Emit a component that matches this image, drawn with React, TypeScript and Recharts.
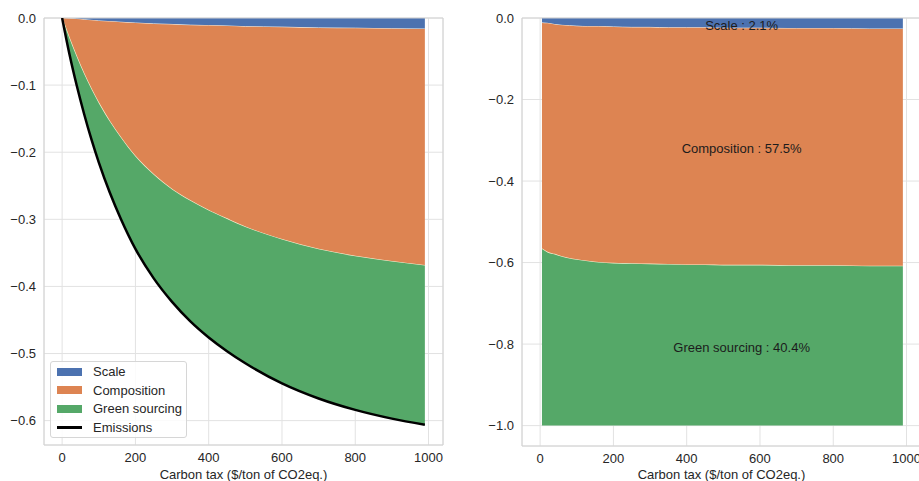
import React from 'react';
import { ComposedChart, Area, Line, XAxis, YAxis, CartesianGrid, ReferenceArea, ReferenceDot } from 'recharts';

// ---------- Left panel: absolute decomposition ----------
const taxLeft = [0, 20, 40, 60, 80, 100, 130, 160, 200, 250, 300, 350, 400, 450, 500, 600, 700, 800, 900, 990];
const scaleLeft = [0, -0.0007, -0.0016, -0.0026, -0.0035, -0.0044, -0.0054, -0.0063, -0.0075, -0.0088, -0.0096, -0.0107, -0.0113, -0.0119, -0.0129, -0.0136, -0.0148, -0.0152, -0.0161, -0.0164];
const compositionLeft = [0, -0.0299, -0.0566, -0.0809, -0.1027, -0.1225, -0.1488, -0.1719, -0.1989, -0.2248, -0.2459, -0.2617, -0.2755, -0.2875, -0.2985, -0.3166, -0.3299, -0.3399, -0.3469, -0.3526];
const greenLeft = [0, -0.0234, -0.0428, -0.0595, -0.0748, -0.0881, -0.1058, -0.1208, -0.1376, -0.1544, -0.1675, -0.1796, -0.1892, -0.1971, -0.2031, -0.2143, -0.2223, -0.2289, -0.234, -0.237];
const emissionsLeft = [0, -0.054, -0.101, -0.143, -0.181, -0.215, -0.26, -0.299, -0.344, -0.388, -0.423, -0.452, -0.476, -0.4965, -0.5145, -0.5445, -0.567, -0.584, -0.597, -0.606];

// ---------- Right panel: shares ----------
const taxRight = [5, 20, 40, 60, 80, 100, 130, 160, 200, 250, 300, 350, 400, 450, 500, 600, 700, 800, 900, 990];
const scaleShare = [-0.012, -0.013, -0.016, -0.018, -0.019, -0.02, -0.021, -0.021, -0.022, -0.023, -0.023, -0.024, -0.024, -0.024, -0.025, -0.025, -0.026, -0.026, -0.027, -0.027];
const compositionShare = [-0.555, -0.562, -0.564, -0.568, -0.571, -0.573, -0.576, -0.579, -0.58, -0.58, -0.581, -0.581, -0.582, -0.582, -0.582, -0.582, -0.582, -0.582, -0.582, -0.582];
const greenShare = [-0.433, -0.425, -0.42, -0.414, -0.41, -0.407, -0.403, -0.4, -0.398, -0.397, -0.396, -0.395, -0.394, -0.394, -0.393, -0.393, -0.392, -0.392, -0.391, -0.391];

const shareLabels = [
  { text: 'Scale : 2.1%', x: 550, y: -0.017 },
  { text: 'Composition : 57.5%', x: 550, y: -0.319 },
  { text: 'Green sourcing : 40.4%', x: 550, y: -0.807 },
];

const xTicks = [0, 200, 400, 600, 800, 1000];
const yTicksLeft = [0, -0.1, -0.2, -0.3, -0.4, -0.5, -0.6];
const yTicksRight = [0, -0.2, -0.4, -0.6, -0.8, -1.0];
const legendItems = [
  { name: 'Scale', color: '#4c72b0', kind: 'patch' },
  { name: 'Composition', color: '#dd8452', kind: 'patch' },
  { name: 'Green sourcing', color: '#55a868', kind: 'patch' },
  { name: 'Emissions', color: '#000000', kind: 'line' },
];

const leftRows = taxLeft.map((t, i) => ({
  tax: t,
  scale: scaleLeft[i],
  composition: compositionLeft[i],
  green: greenLeft[i],
  emissions: emissionsLeft[i],
}));
const rightRows = taxRight.map((t, i) => ({
  tax: t,
  scale: scaleShare[i],
  composition: compositionShare[i],
  green: greenShare[i],
}));

const FONT = '"Liberation Sans", Arial, Helvetica, sans-serif';
const TEXT = '#262626';
const BLUE = '#4c72b0';
const ORANGE = '#dd8452';
const GREEN = '#55a868';
const GRID = '#e2e2e2';
const FRAME = '#d2d2d2';
const X_DOMAIN: [number, number] = [-49.5, 1039.5];
const fmtY = (v: number) => (v === 0 ? '0.0' : v.toFixed(1).replace('-', '\u2212'));
const tickStyle = { fill: TEXT, fontSize: 13, fontFamily: FONT };
const xLabel = { value: 'Carbon tax ($/ton of CO2eq.)', position: 'insideBottom' as const, offset: 2, fill: TEXT, fontSize: 13, fontFamily: FONT };

function Legend() {
  return (
    <div
      style={{
        position: 'absolute', left: 50, top: 361, width: 135, height: 75,
        border: '1px solid #d6d6d6', borderRadius: 3, background: 'rgba(255,255,255,0.85)',
        fontFamily: FONT, fontSize: 13, color: TEXT,
      }}
    >
      {legendItems.map((it, i) => (
        <div key={it.name} style={{ position: 'absolute', left: 0, top: 0.5 + i * 18.5, height: 18, display: 'flex', alignItems: 'center' }}>
          {it.kind === 'patch' ? (
            <div style={{ marginLeft: 6, width: 25, height: 8, background: it.color }} />
          ) : (
            <div style={{ marginLeft: 6, width: 25, height: 3, background: it.color }} />
          )}
          <span style={{ marginLeft: 11, whiteSpace: 'nowrap' }}>{it.name}</span>
        </div>
      ))}
    </div>
  );
}

export default function App() {
  const yMinLeft = -0.6363;
  const yMinRight = -1.05;
  return (
    <div style={{ position: 'absolute', left: 0, top: 0, width: 919, height: 481, overflow: 'hidden', background: '#fff', fontFamily: FONT }}>
      <div style={{ position: 'absolute', left: 0, top: 0 }}>
        <ComposedChart width={460} height={481} data={leftRows} margin={{ top: 18, right: 17, bottom: 0, left: 0 }}>
          <CartesianGrid stroke={GRID} strokeWidth={1} />
          <XAxis dataKey="tax" type="number" domain={X_DOMAIN} ticks={xTicks} allowDataOverflow tickLine={false} axisLine={false} height={36} tick={tickStyle} label={xLabel} />
          <YAxis type="number" domain={[yMinLeft, 0]} ticks={yTicksLeft} allowDataOverflow width={44} tickLine={false} axisLine={false} tick={tickStyle} tickFormatter={fmtY} />
          <Area dataKey="scale" stackId="s" type="monotone" fill={BLUE} fillOpacity={1} stroke="#f2efe6" strokeWidth={1} isAnimationActive={false} />
          <Area dataKey="composition" stackId="s" type="monotone" fill={ORANGE} fillOpacity={1} stroke="#fbf1d2" strokeWidth={1.2} isAnimationActive={false} />
          <Area dataKey="green" stackId="s" type="monotone" fill={GREEN} fillOpacity={1} stroke="none" isAnimationActive={false} />
          <Line dataKey="emissions" type="monotone" stroke="#000" strokeWidth={2.5} dot={false} isAnimationActive={false} />
          <ReferenceArea x1={X_DOMAIN[0]} x2={X_DOMAIN[1]} y1={yMinLeft} y2={0} fill="none" stroke={FRAME} strokeWidth={1} ifOverflow="visible" />
        </ComposedChart>
        <Legend />
      </div>
      <div style={{ position: 'absolute', left: 460, top: 0 }}>
        <ComposedChart width={478} height={481} data={rightRows} margin={{ top: 18, right: 17, bottom: 0, left: 0 }}>
          <CartesianGrid stroke={GRID} strokeWidth={1} />
          <XAxis dataKey="tax" type="number" domain={X_DOMAIN} ticks={xTicks} allowDataOverflow tickLine={false} axisLine={false} height={35} tick={tickStyle} label={xLabel} />
          <YAxis type="number" domain={[yMinRight, 0]} ticks={yTicksRight} allowDataOverflow width={62} tickLine={false} axisLine={false} tick={tickStyle} tickFormatter={fmtY} />
          <Area dataKey="scale" stackId="s" type="monotone" fill={BLUE} fillOpacity={1} stroke="#f2efe6" strokeWidth={1} isAnimationActive={false} />
          <Area dataKey="composition" stackId="s" type="monotone" fill={ORANGE} fillOpacity={1} stroke="#fbf1d2" strokeWidth={1.2} isAnimationActive={false} />
          <Area dataKey="green" stackId="s" type="monotone" fill={GREEN} fillOpacity={1} stroke="none" isAnimationActive={false} />
          <ReferenceArea x1={X_DOMAIN[0]} x2={X_DOMAIN[1]} y1={yMinRight} y2={0} fill="none" stroke={FRAME} strokeWidth={1} ifOverflow="visible" />
          {shareLabels.map((l) => (
            <ReferenceDot
              key={l.text}
              x={l.x}
              y={l.y}
              r={0}
              fill="none"
              stroke="none"
              ifOverflow="visible"
              label={{ value: l.text, position: 'center', fill: '#1c1c1c', fontSize: 13, fontFamily: FONT }}
            />
          ))}
        </ComposedChart>
      </div>
    </div>
  );
}
